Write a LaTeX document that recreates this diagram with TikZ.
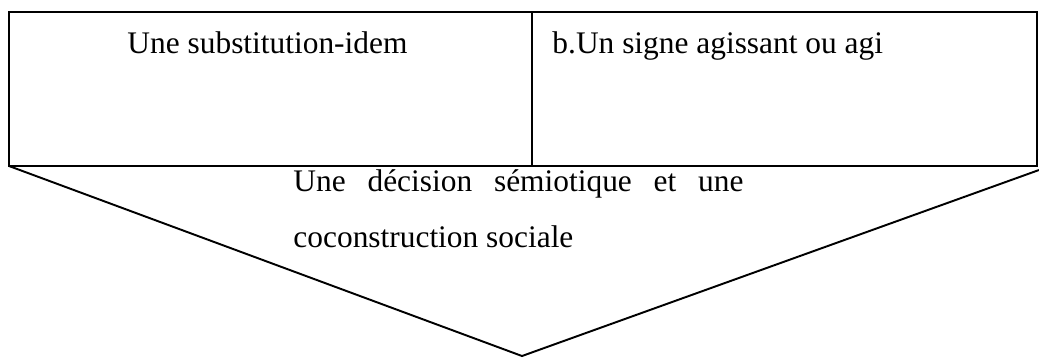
\documentclass[tikz,border=0pt]{standalone}
\usepackage{fontspec}
\setmainfont{Liberation Serif}
\usepackage{tikz}
\usetikzlibrary{positioning,calc}
\tikzset{
  celltext/.style={inner sep=0pt, anchor=base west, font=\fontsize{13}{23.2}\selectfont},
  frame/.style={line width=0.8pt, black}
}

\begin{document}
\begin{tikzpicture}[x=0.414pt, y=-0.414pt]
  \useasboundingbox (0,0) rectangle (1039,357);
  % table frame and its divider
  \coordinate (nw) at (9,12);
  \coordinate (se) at (1037,166);
  \coordinate (sw) at (9,166);
  \coordinate (tip) at (522,356);
  \coordinate (re) at (1039,170);
  \draw[frame] (nw) rectangle (se);
  \draw[frame] (532,12) -- (532,166);
  % the funnel below
  \draw[frame, line join=miter] (sw) -- (tip) -- (re);
  \node[celltext] (idem) at (127,53) {Une substitution-idem};
  \node[celltext] (signe) at (552,53) {b.Un signe agissant ou agi};
  \node[celltext, text width=186.3pt, align=justify] (decision) at (293,191)
    {Une décision sémiotique et une\linebreak coconstruction sociale};
\end{tikzpicture}
\end{document}
